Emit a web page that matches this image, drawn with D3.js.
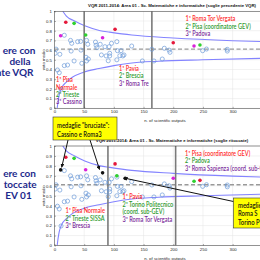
<!DOCTYPE html>
<html><head><meta charset="utf-8">
<script src="https://cdn.jsdelivr.net/npm/d3@7"></script>
<style>body{margin:0;background:#fff;overflow:hidden}svg{display:block}</style>
</head><body>
<svg id="c" width="260" height="260"></svg>
<script>
// ---------- DATA ----------
const xTicks = [0, 50, 100, 150, 200, 250, 300];
const yTicks = [0, 0.1, 0.2, 0.3, 0.4, 0.5, 0.6, 0.7, 0.8, 0.9, 1];
const yTickLabels = ["0", "0.1", "0.2", "0.3", "0.4", "0.5", "0.6", "0.7", "0.8", "0.9", "1"];

// all departments (open circles): n. of scientific outputs, voto medio
const nOutputs = [16.5, 27, 29, 39, 44, 54, 56, 69, 70, 71.5, 77, 85, 2.5, 1, 9, 28, 44.6, 79, 87, 53, 57, 33, 22, 16.5, 54, 46, 5, 8, 11, 90.5, 93, 105, 117, 112, 92, 96, 105, 106, 130, 93, 110, 115, 148, 164, 167.5, 181.5, 185, 193, 194.5, 249.5, 256, 291, 291];
const votoMedio = [0.753, 0.70, 0.67, 0.687, 0.69, 0.70, 0.66, 0.683, 0.65, 0.625, 0.66, 0.635, 0.61, 0.567, 0.557, 0.59, 0.60, 0.55, 0.54, 0.526, 0.508, 0.488, 0.446, 0.44, 0.488, 0.464, 0.395, 0.367, 0.196, 0.49, 0.54, 0.50, 0.55, 0.594, 0.635, 0.67, 0.687, 0.594, 0.642, 0.567, 0.542, 0.54, 0.488, 0.608, 0.488, 0.508, 0.619, 0.60, 0.577, 0.594, 0.611, 0.608, 0.59];

// confidence band
const upperN = [14, 20, 34, 51, 77, 93, 130, 200, 300, 400];
const upperV = [1.0, 0.95, 0.90, 0.85, 0.80, 0.785, 0.755, 0.725, 0.697, 0.68];
const lowerN = [4.5, 6, 8, 12, 20, 30, 48, 75, 100, 127, 175, 250, 350, 400];
const lowerV = [0.0, 0.07, 0.14, 0.21, 0.27, 0.32, 0.37, 0.41, 0.44, 0.465, 0.485, 0.50, 0.515, 0.52];
const meanVoto = 0.61;

// size-class thresholds
const topThresholds = [50, 164];
const bottomThresholds = [90, 204];

// medals (rank 0 = "bruciata")
const topMedalN = [19, 102, 200, 33, 52.5, 245, 10.4, 81, 235];
const topMedalV = [0.887, 0.814, 0.676, 0.876, 0.756, 0.653, 0.748, 0.728, 0.642];
const topMedalRank = [1, 1, 1, 2, 2, 2, 3, 3, 3];
const bottomMedalN = [19, 102, 245, 33, 105, 235, 52.5, 200, 10.4, 81, 119];
const bottomMedalV = [0.887, 0.82, 0.655, 0.876, 0.70, 0.645, 0.762, 0.676, 0.76, 0.73, 0.675];
const bottomMedalRank = [1, 1, 1, 2, 2, 2, 3, 3, 0, 0, 0];

// texts
const topTitle = "VQR 2011-2014: Area 01 - Sc. Matematiche e informatiche (soglie precedente VQR)";
const bottomTitle = "VQR 2011-2014: Area 01 - Sc. Matematiche e informatiche (soglie ritoccate)";
const xLabel = "n. of scientific outputs";
const yLabel = "voto medio";
const topLabelText = ["1ª Pisa", "Normale", "2ª Trieste", "3ª Cassino", "1ª Pavia", "2ª Brescia", "3ª Roma Tre", "1ª Roma Tor Vergata", "2ª Pisa (coordinatore GEV)", "3ª Padova"];
const topLabelRank = [1, 1, 2, 3, 1, 2, 3, 1, 2, 3];
const bottomLabelText = ["1ª Pisa Normale", "2ª Trieste SISSA", "3ª Brescia", "1ª Pavia", "2ª Torino Politecnico", "(coord. sub-GEV)", "3ª Roma Tor Vergata", "1ª Pisa (coordinatore GEV)", "2ª Padova", "3ª Roma Sapienza (coord. sub-GEV)"];
const bottomLabelRank = [1, 2, 3, 1, 2, 2, 3, 1, 2, 3];
const leftTopText = ["ere con", "della", "nte VQR"];
const leftBottomText = ["ere con", "toccate", "EV 01"];
const callout1Text = ["medaglie \"bruciate\":", "Cassino e Roma3"];
const callout2Text = ["medaglie", "Roma S", "Torino P"];

// ---------- DRAWING ----------
const svg = d3.select("#c");
const rankColor = {0: "#111111", 1: "#e5173a", 2: "#2fd12f", 3: "#d922d9"};
const textColor = {1: "#ff2b2b", 2: "#2e9a2e", 3: "#7a2a9a"};
const tickFont = "Liberation Sans, Arial, sans-serif";
const calFont = "Lato, 'Open Sans', sans-serif";

const defs = svg.append("defs");
defs.append("marker").attr("id", "arr").attr("viewBox", "0 0 10 10").attr("refX", 9).attr("refY", 5)
  .attr("markerWidth", 4).attr("markerHeight", 4).attr("orient", "auto")
  .append("path").attr("d", "M0,0 L10,5 L0,10 z").attr("fill", "#111");

function drawChart(id, top, bottom, title, thresholds, mN, mV, mR) {
  const x = d3.scaleLinear().domain([0, 400]).range([54.5, 292]);
  const y = d3.scaleLinear().domain([0, 1]).range([bottom, top]);
  const g = svg.append("g");
  defs.append("clipPath").attr("id", "clip" + id).append("rect")
    .attr("x", x(0)).attr("y", top).attr("width", x(400) - x(0)).attr("height", bottom - top);

  // grid
  g.selectAll(".gx").data(xTicks).join("line").attr("x1", d => x(d)).attr("x2", d => x(d))
    .attr("y1", top).attr("y2", bottom).attr("stroke", "#e4e4e4").attr("stroke-width", 0.5);
  g.selectAll(".gy").data(yTicks).join("line").attr("y1", d => y(d)).attr("y2", d => y(d))
    .attr("x1", x(0)).attr("x2", x(400)).attr("stroke", "#e4e4e4").attr("stroke-width", 0.5);

  const pc = g.append("g").attr("clip-path", `url(#clip${id})`);
  const line = d3.line().x(d => x(d[0])).y(d => y(d[1])).curve(d3.curveMonotoneX);
  pc.append("path").attr("d", line(upperN.map((n, i) => [n, upperV[i]])))
    .attr("fill", "none").attr("stroke", "#8484ff").attr("stroke-width", 1.1);
  pc.append("path").attr("d", line(lowerN.map((n, i) => [n, lowerV[i]])))
    .attr("fill", "none").attr("stroke", "#8484ff").attr("stroke-width", 1.1);
  pc.append("line").attr("x1", x(0)).attr("x2", x(400)).attr("y1", y(meanVoto)).attr("y2", y(meanVoto))
    .attr("stroke", "#999").attr("stroke-width", 1.4).attr("stroke-dasharray", "4,2.5");
  pc.selectAll(".th").data(thresholds).join("line").attr("x1", d => x(d)).attr("x2", d => x(d))
    .attr("y1", top).attr("y2", bottom).attr("stroke", "#7a7a7a").attr("stroke-width", 1.6);

  pc.selectAll(".pt").data(nOutputs).join("circle").attr("cx", d => x(d)).attr("cy", (d, i) => y(votoMedio[i]))
    .attr("r", 2.05).attr("fill", "none").attr("stroke", "#6d9bd8").attr("stroke-width", 0.7);
  pc.selectAll(".md").data(mN).join("circle").attr("cx", d => x(d)).attr("cy", (d, i) => y(mV[i]))
    .attr("r", 1.8).attr("fill", (d, i) => rankColor[mR[i]]);

  // frame
  g.append("rect").attr("x", x(0)).attr("y", top).attr("width", x(400) - x(0)).attr("height", bottom - top)
    .attr("fill", "none").attr("stroke", "#333").attr("stroke-width", 0.5);

  const ax = g.append("g").attr("transform", `translate(0,${bottom})`)
    .call(d3.axisBottom(x).tickValues(xTicks).tickFormat(d3.format("d")).tickSize(-1.5).tickPadding(2));
  const ay = g.append("g").attr("transform", `translate(${x(0)},0)`)
    .call(d3.axisLeft(y).tickValues(yTicks).tickFormat((d, i) => yTickLabels[i]).tickSize(-1.5).tickPadding(2.5));
  [ax, ay].forEach(a => {
    a.select(".domain").remove();
    a.selectAll("line").attr("stroke", "#333").attr("stroke-width", 0.4);
    a.selectAll("text").attr("font-size", 4.3).attr("font-family", tickFont).attr("fill", "#222");
  });

  g.append("text").attr("x", 172).attr("y", top - 4.5).attr("text-anchor", "middle")
    .attr("font-size", 4.3).attr("font-weight", "bold").attr("font-family", tickFont).attr("fill", "#111").text(title);
  g.append("text").attr("x", 165).attr("y", bottom + 14).attr("text-anchor", "middle")
    .attr("font-size", 4.3).attr("font-family", tickFont).attr("fill", "#222").text(xLabel);
  g.append("text").attr("transform", `translate(44.5,${(top + bottom) / 2}) rotate(-90)`).attr("text-anchor", "middle")
    .attr("font-size", 4.3).attr("font-family", tickFont).attr("fill", "#222").text(yLabel);
  return {x, y};
}

drawChart("t", 11.3, 108.3, topTitle, topThresholds, topMedalN, topMedalV, topMedalRank);
drawChart("b", 146, 245.5, bottomTitle, bottomThresholds, bottomMedalN, bottomMedalV, bottomMedalRank);

// narrow (Calibri-like) text: compress horizontally
function narrowText(sel, texts, pos, size, fills, sx) {
  sel.selectAll(null).data(texts).join("text")
    .attr("transform", (d, i) => `translate(${pos[i][0]},${pos[i][1]}) scale(${sx},1)`)
    .attr("font-size", size).attr("font-weight", 600).attr("font-family", calFont)
    .attr("fill", (d, i) => fills[i]).text(d => d);
}
narrowText(svg, topLabelText,
  [[56, 82], [56, 89.5], [56, 97], [56, 104], [119, 70.5], [119, 78], [119, 85.5], [185.5, 21], [185.5, 28.7], [185.5, 36]],
  6.6, topLabelRank.map(r => textColor[r]), 0.85);
narrowText(svg, bottomLabelText,
  [[65.5, 213], [65.5, 220.5], [65.5, 228], [122.5, 199], [122.5, 206.7], [122.5, 214.4], [122.5, 222], [185, 155.5], [185, 163.2], [185, 171]],
  6.6, bottomLabelRank.map(r => textColor[r]), 0.85);

// left big texts
const navy = "#1d2a8c";
svg.selectAll(null).data(leftTopText).join("text").attr("y", (d, i) => 54 + i * 11)
  .attr("x", (d, i) => [35.5, 30.5, 33.5][i]).attr("text-anchor", "end")
  .attr("font-size", 10).attr("font-weight", "bold").attr("font-family", calFont).attr("fill", navy).text(d => d);
svg.selectAll(null).data(leftBottomText).join("text").attr("y", (d, i) => 176.5 + i * 11)
  .attr("x", (d, i) => [36, 36.7, 31.7][i]).attr("text-anchor", "end")
  .attr("font-size", 10).attr("font-weight", "bold").attr("font-family", calFont).attr("fill", navy).text(d => d);

// callout 1
svg.append("line").attr("x1", 68).attr("y1", 140).attr("x2", 61.7).attr("y2", 167.3)
  .attr("stroke", "#111").attr("stroke-width", 1).attr("marker-end", "url(#arr)");
svg.append("line").attr("x1", 90).attr("y1", 140).attr("x2", 99.5).attr("y2", 169.5)
  .attr("stroke", "#111").attr("stroke-width", 1).attr("marker-end", "url(#arr)");
svg.append("rect").attr("x", 53).attr("y", 117).attr("width", 64).attr("height", 23)
  .attr("fill", "#ffff00").attr("stroke", "#333").attr("stroke-width", 0.6);
narrowText(svg, callout1Text, [[57, 128], [57, 136.5]], 6.6, ["#111", "#111"], 0.9);

// callout 2
svg.append("line").attr("x1", 233.5).attr("y1", 201.5).attr("x2", 124).attr("y2", 178)
  .attr("stroke", "#111").attr("stroke-width", 1).attr("marker-end", "url(#arr)");
svg.append("rect").attr("x", 233.5).attr("y", 198).attr("width", 40).attr("height", 30)
  .attr("fill", "#ffff00").attr("stroke", "#333").attr("stroke-width", 0.6);
narrowText(svg, callout2Text, [[238, 208], [238, 216.3], [238, 224.6]], 6.6, ["#111", "#111", "#111"], 0.9);
</script>
</body></html>
